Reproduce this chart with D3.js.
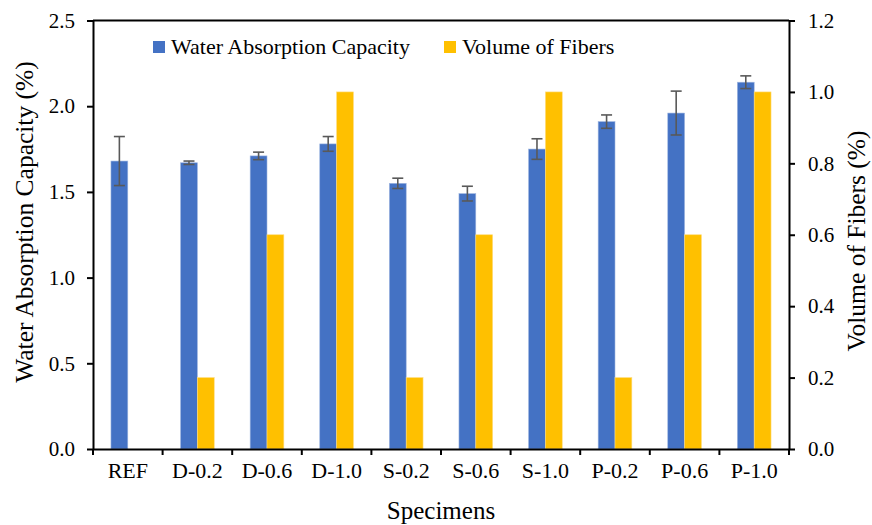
<!DOCTYPE html>
<html>
<head>
<meta charset="utf-8">
<script src="https://cdn.jsdelivr.net/npm/d3@7"></script>
<style>
  body { margin: 0; background: #fff; }
</style>
</head>
<body>
<div id="chart"></div>
<script>
var specimens = ['REF', 'D-0.2', 'D-0.6', 'D-1.0', 'S-0.2', 'S-0.6', 'S-1.0', 'P-0.2', 'P-0.6', 'P-1.0'];
var absorption = [1.68, 1.67, 1.71, 1.78, 1.55, 1.49, 1.75, 1.91, 1.96, 2.14];
var absorptionErr = [0.143, 0.01, 0.022, 0.043, 0.03, 0.043, 0.06, 0.039, 0.128, 0.037];
var fibers = [0, 0.2, 0.6, 1.0, 0.2, 0.6, 1.0, 0.2, 0.6, 1.0];
var leftTicks = [0, 0.5, 1.0, 1.5, 2.0, 2.5];
var rightTicks = [0, 0.2, 0.4, 0.6, 0.8, 1.0, 1.2];

var drawChart = function () {

    var width = 872,
        height = 525,
        plotLeft = 93,
        plotRight = 789,
        plotTop = 20.5,
        plotBottom = 449,
        blue = '#4472C4',
        yellow = '#FFC000',
        serif = '"Liberation Serif", "Times New Roman", serif';

    var svg = d3.select('#chart')
        .append('svg')
        .attr('width', width)
        .attr('height', height)
        .style('font-family', serif);

    var x = d3.scaleBand()
        .domain(specimens)
        .range([plotLeft, plotRight]);

    var yLeft = d3.scaleLinear()
        .domain([0, 2.5])
        .range([plotBottom, plotTop]);

    var yRight = d3.scaleLinear()
        .domain([0, 1.2])
        .range([plotBottom, plotTop]);

    var barWidth = x.bandwidth() * 0.242;

    // top border of the plot area
    svg.append('line')
        .attr('x1', plotLeft).attr('x2', plotRight)
        .attr('y1', plotTop).attr('y2', plotTop)
        .style('stroke', '#000')
        .style('stroke-width', 2);

    // blue bars
    svg.append('g')
        .selectAll('rect')
        .data(absorption)
        .enter().append('rect')
            .attr('x', function (d, i) { return x(specimens[i]) + x.bandwidth() / 2 - barWidth; })
            .attr('y', function (d) { return yLeft(d); })
            .attr('width', barWidth)
            .attr('height', function (d) { return plotBottom - yLeft(d); })
            .style('fill', blue)
            .style('stroke', '#9fb6e0')
            .style('stroke-width', 0.6);

    // yellow bars
    svg.append('g')
        .selectAll('rect')
        .data(fibers)
        .enter().append('rect')
            .attr('x', function (d, i) { return x(specimens[i]) + x.bandwidth() / 2; })
            .attr('y', function (d) { return yRight(d); })
            .attr('width', barWidth)
            .attr('height', function (d) { return plotBottom - yRight(d); })
            .style('fill', yellow)
            .style('stroke', '#ffdd80')
            .style('stroke-width', 0.6);

    // error bars
    var errG = svg.append('g')
        .style('stroke', '#595959')
        .style('stroke-width', 1.6);

    absorption.forEach(function (d, i) {
        var cx = x(specimens[i]) + x.bandwidth() / 2 - barWidth / 2;
        var y1 = yLeft(d + absorptionErr[i]),
            y2 = yLeft(d - absorptionErr[i]);
        errG.append('line').attr('x1', cx).attr('x2', cx).attr('y1', y1).attr('y2', y2);
        errG.append('line').attr('x1', cx - 5.5).attr('x2', cx + 5.5).attr('y1', y1).attr('y2', y1);
        errG.append('line').attr('x1', cx - 5.5).attr('x2', cx + 5.5).attr('y1', y2).attr('y2', y2);
    });

    // axes
    var leftAxis = d3.axisLeft(yLeft)
        .tickValues(leftTicks)
        .tickFormat(d3.format('.1f'))
        .tickSize(6)
        .tickPadding(12)
        .tickSizeOuter(0);

    var rightAxis = d3.axisRight(yRight)
        .tickValues(rightTicks)
        .tickFormat(d3.format('.1f'))
        .tickSize(6)
        .tickPadding(13)
        .tickSizeOuter(0);

    var bottomAxis = d3.axisBottom(x)
        .tickSize(0)
        .tickPadding(13)
        .tickSizeOuter(0);

    var gl = svg.append('g')
        .attr('transform', 'translate(' + plotLeft + ',0)')
        .call(leftAxis);

    var gr = svg.append('g')
        .attr('transform', 'translate(' + plotRight + ',0)')
        .call(rightAxis);

    var gb = svg.append('g')
        .attr('transform', 'translate(0,' + plotBottom + ')')
        .call(bottomAxis);

    // category boundary ticks
    gb.selectAll('.bound')
        .data(specimens.concat(['end']))
        .enter().append('line')
            .attr('class', 'bound')
            .attr('x1', function (d, i) { return plotLeft + i * x.step(); })
            .attr('x2', function (d, i) { return plotLeft + i * x.step(); })
            .attr('y1', 0)
            .attr('y2', 6);

    [gl, gr, gb].forEach(function (g) {
        g.attr('font-family', null).attr('font-size', null);
        g.selectAll('path').style('stroke', '#000').style('stroke-width', 2).style('fill', 'none');
        g.selectAll('line').style('stroke', '#000').style('stroke-width', 2);
        g.selectAll('text')
            .style('font-family', serif)
            .style('font-size', '21px')
            .style('fill', '#000');
    });
    gb.selectAll('text').style('font-size', '22px');

    // axis titles
    svg.append('text')
        .attr('transform', 'translate(33,' + 222 + ') rotate(-90)')
        .attr('text-anchor', 'middle')
        .style('font-size', '25.5px')
        .text('Water Absorption Capacity (%)');

    svg.append('text')
        .attr('transform', 'translate(865,' + 241 + ') rotate(-90)')
        .attr('text-anchor', 'middle')
        .style('font-size', '25.5px')
        .text('Volume of Fibers (%)');

    svg.append('text')
        .attr('x', (plotLeft + plotRight) / 2)
        .attr('y', 519)
        .attr('text-anchor', 'middle')
        .style('font-size', '25px')
        .text('Specimens');

    // legend
    var legendItems = [['Water Absorption Capacity', blue, 153], ['Volume of Fibers', yellow, 444]];
    var legend = svg.append('g');
    legendItems.forEach(function (d) {
        legend.append('rect')
            .attr('x', d[2]).attr('y', 41)
            .attr('width', 12).attr('height', 12)
            .style('fill', d[1]);
        legend.append('text')
            .attr('x', d[2] + 18).attr('y', 54)
            .style('font-size', '22px')
            .text(d[0]);
    });
};

drawChart();
</script>
</body>
</html>
